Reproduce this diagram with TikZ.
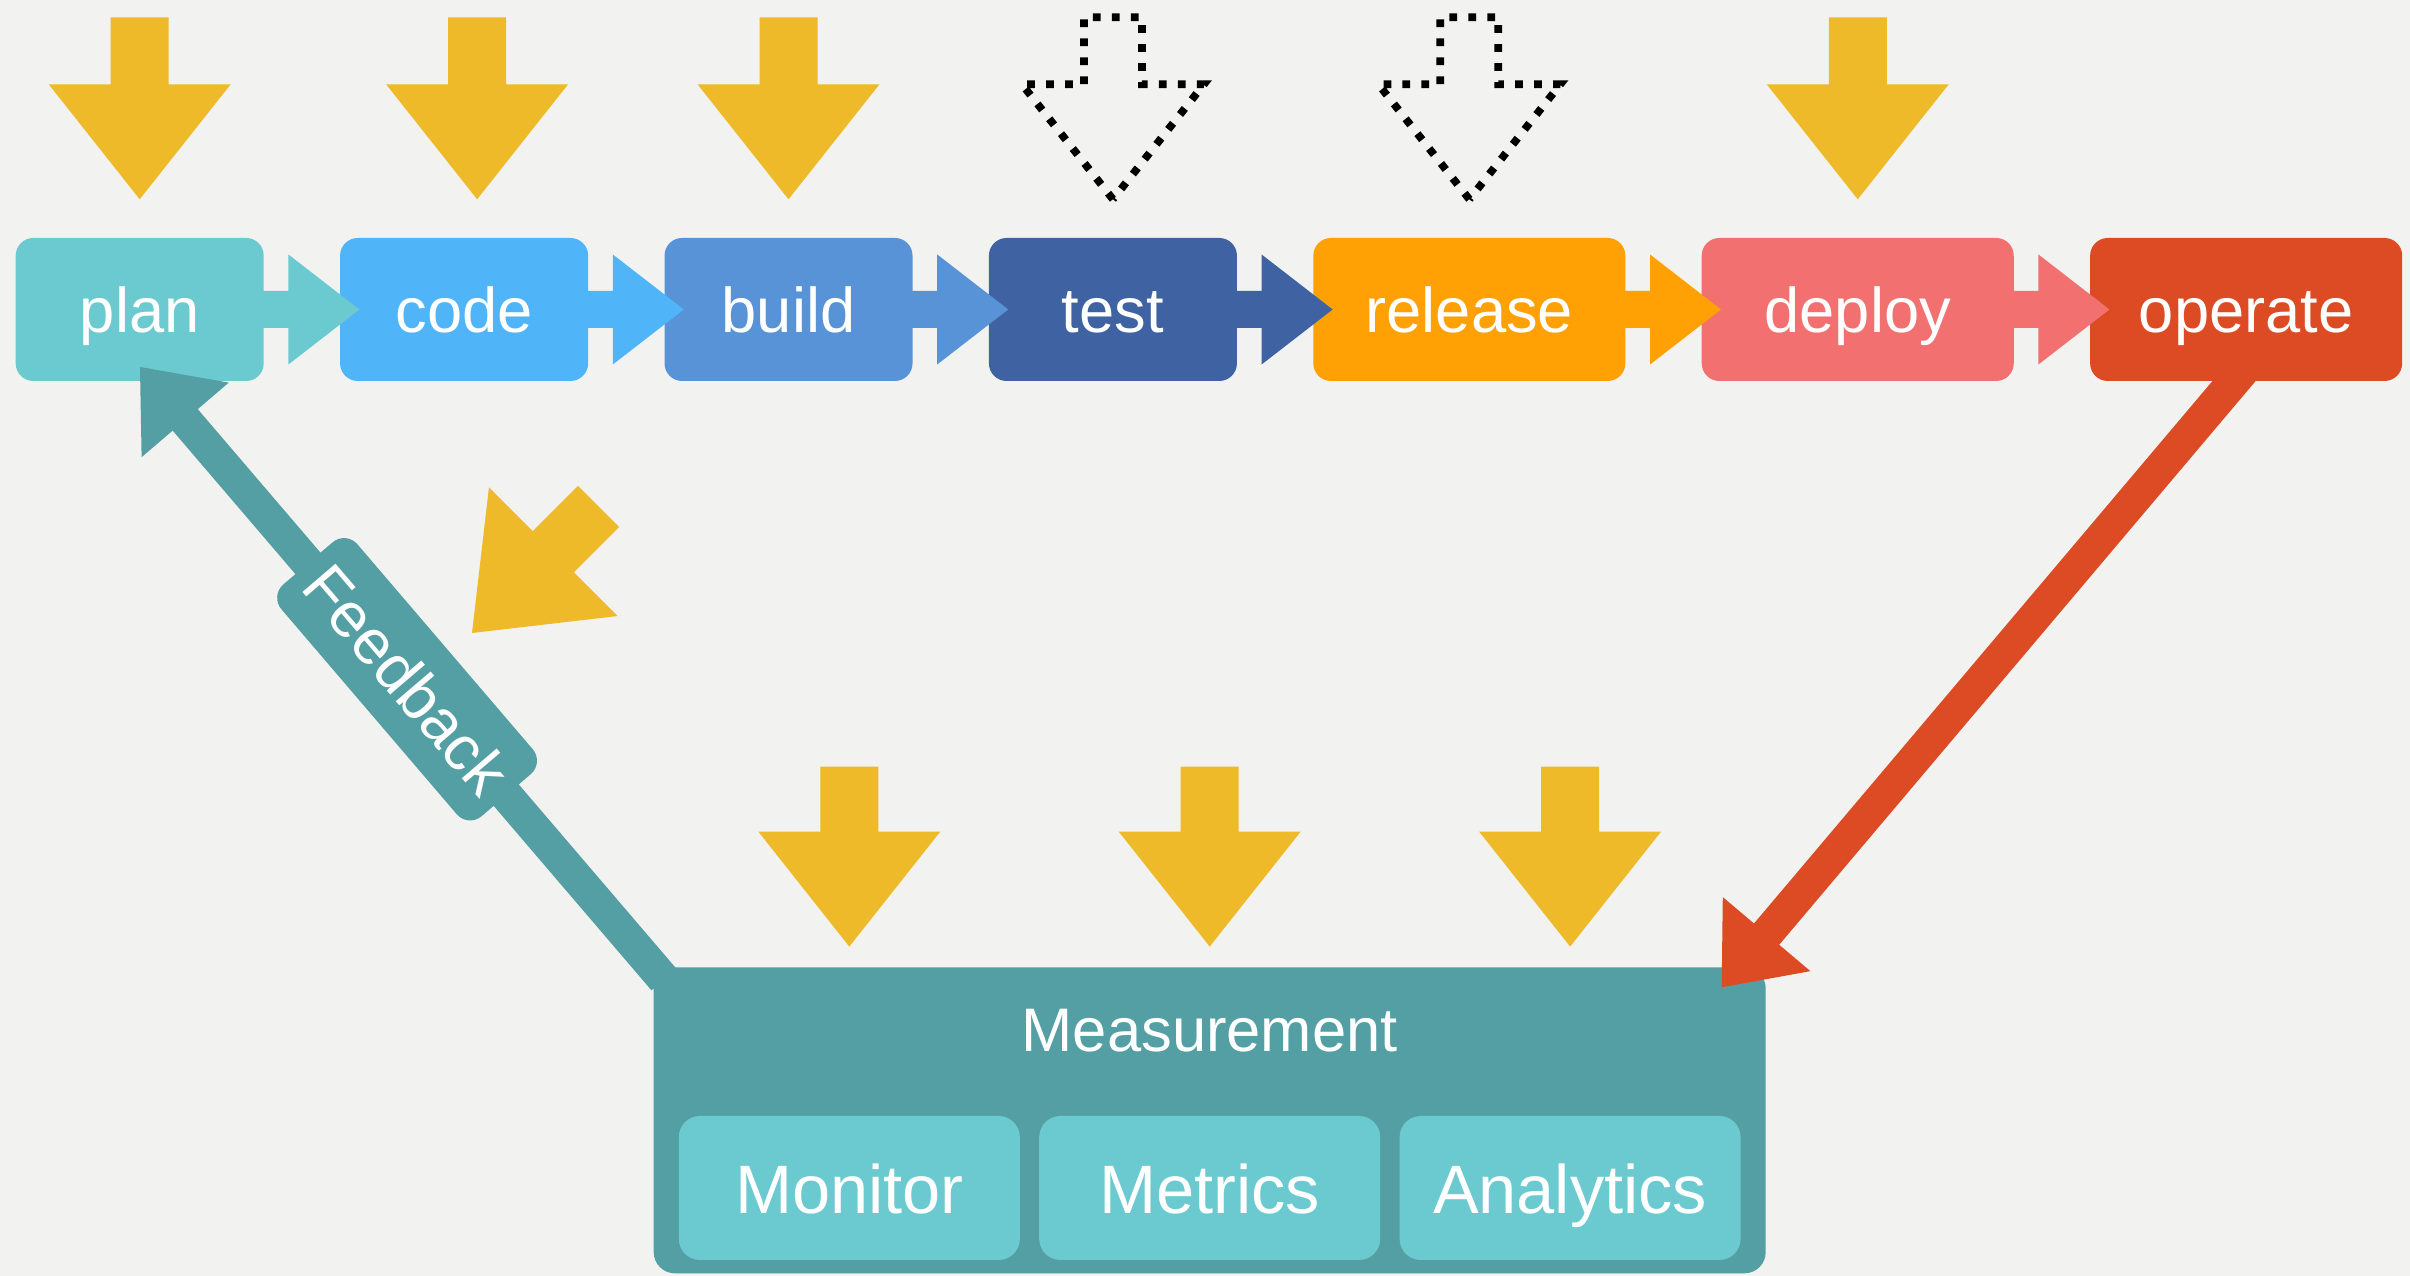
\documentclass[tikz,border=0pt]{standalone}
\usepackage{fontspec}
\setmainfont{Liberation Sans}
\usetikzlibrary{positioning, arrows.meta, calc}

\definecolor{bgcol}{HTML}{F2F2F0}
\definecolor{plancol}{HTML}{6BCAD0}
\definecolor{codecol}{HTML}{50B4F8}
\definecolor{buildcol}{HTML}{5793D6}
\definecolor{testcol}{HTML}{3F63A2}
\definecolor{releasecol}{HTML}{FFA104}
\definecolor{deploycol}{HTML}{F27170}
\definecolor{operatecol}{HTML}{DD4B24}
\definecolor{gold}{HTML}{EEBA29}
\definecolor{fbteal}{HTML}{549FA3}

\begin{document}
\begin{tikzpicture}[node distance=7.5mm,
		stagebox/.style={rounded corners=5pt, minimum width=2.48cm, minimum height=1.43cm, inner sep=0pt, text=white, font=\fontsize{18}{20}\selectfont, text height=13.3pt, text depth=0pt},
		widebox/.style={stagebox, minimum width=3.12cm},
		partbox/.style={fill=plancol, rounded corners=6pt, minimum width=3.41cm, minimum height=1.44cm, inner sep=0pt, text=white, font=\fontsize{19.5}{22}\selectfont, text height=14.4pt, text depth=0pt},
		fatarrow/.style={line width=3.3mm, -{Triangle[length=7mm, width=11mm]}}]
	
			\useasboundingbox (0,0) rectangle (24.1,12.76);
			\fill[bgcol] (0,0) rectangle (24.1,12.76);
	
			% measurement block
			\node[fill=fbteal, rounded corners=6pt, minimum width=11.12cm, minimum height=3.06cm, anchor=south west] (meas) at (6.53,0.02) {};
			\node[text=white, font=\fontsize{17.5}{20}\selectfont, text height=12.6pt, text depth=0pt] (title) at ([yshift=-6.3mm]meas.north) {Measurement};
			\node[partbox] (metrics) at ([yshift=8.6mm]meas.south) {Metrics};
			\node[partbox, left=1.8mm of metrics] (monitor) {Monitor};
			\node[partbox, right=1.8mm of metrics] (analytics) {Analytics};
	
			% pipeline
			\node[stagebox, fill=plancol, anchor=west] (plan) at (0.15,9.665) {plan};
			\node[stagebox, fill=codecol, right=of plan] (code) {code};
			\node[stagebox, fill=buildcol, right=of code] (build) {build};
			\node[stagebox, fill=testcol, right=of build] (test) {test};
			\node[widebox, fill=releasecol, right=of test] (release) {release};
			\node[widebox, fill=deploycol, right=of release] (deploy) {deploy};
			\node[widebox, fill=operatecol, right=of deploy] (operate) {operate};
	
			\foreach \from / \to / \col in {plan/code/plancol, code/build/codecol, build/test/buildcol, test/release/testcol, release/deploy/releasecol, deploy/operate/deploycol}
				\fill[\col] ([xshift=-1mm, yshift=1.85mm]\from.east) -- ([xshift=-5.1mm, yshift=1.85mm]\to.west) -- ([xshift=-5.1mm, yshift=5.5mm]\to.west) -- ([xshift=2mm]\to.west) -- ([xshift=-5.1mm, yshift=-5.5mm]\to.west) -- ([xshift=-5.1mm, yshift=-1.85mm]\to.west) -- ([xshift=-1mm, yshift=-1.85mm]\from.east) -- cycle;
	
			% yellow arrows
			\foreach \s / \dx in {plan/0, code/1.3, build/0, deploy/0}
				\fill[gold, shift={([xshift=\dx mm, yshift=3.8mm]\s.north)}] (0,0) -- (-0.91,1.15) -- (-0.29,1.15) -- (-0.29,1.82) -- (0.29,1.82) -- (0.29,1.15) -- (0.91,1.15) -- cycle;
			
			\foreach \s in {test, release}
				\draw[black, line width=2.2pt, dash pattern=on 2.2pt off 3.2pt, shift={([yshift=3.8mm]\s.north)}] (0,0) -- (-0.91,1.15) -- (-0.29,1.15) -- (-0.29,1.82) -- (0.29,1.82) -- (0.29,1.15) -- (0.91,1.15) -- cycle;
	
			\foreach \s in {monitor, metrics, analytics}
				\fill[gold, shift={($(\s |- meas.north)+(0,0.2)$)}] (0,0) -- (-0.91,1.15) -- (-0.29,1.15) -- (-0.29,1.8) -- (0.29,1.8) -- (0.29,1.15) -- (0.91,1.15) -- cycle;
	
			\fill[gold, shift={(4.72,6.43)}, rotate=-45] (0,0) -- (-0.91,1.15) -- (-0.29,1.15) -- (-0.29,1.79) -- (0.29,1.79) -- (0.29,1.15) -- (0.91,1.15) -- cycle;
	
			% feedback and operate
			\draw[fbteal, fatarrow] ([xshift=1.1mm, yshift=-1.3mm]meas.north west) -- node[pos=0.49, sloped, fill=fbteal, rounded corners=5pt, minimum width=3.05cm, minimum height=1cm, text=white, font=\fontsize{18}{20}\selectfont, text height=13pt, text depth=0pt] (fb) {Feedback} ([yshift=1.5mm]plan.south);
	
			\begin{scope}
				\clip (meas.south west) rectangle (operate.south east);
				\draw[operatecol, fatarrow] ([yshift=1.5mm]operate.south) -- ([xshift=-4.5mm, yshift=-2.1mm]meas.north east);
			\end{scope}
		\end{tikzpicture}
\end{document}
